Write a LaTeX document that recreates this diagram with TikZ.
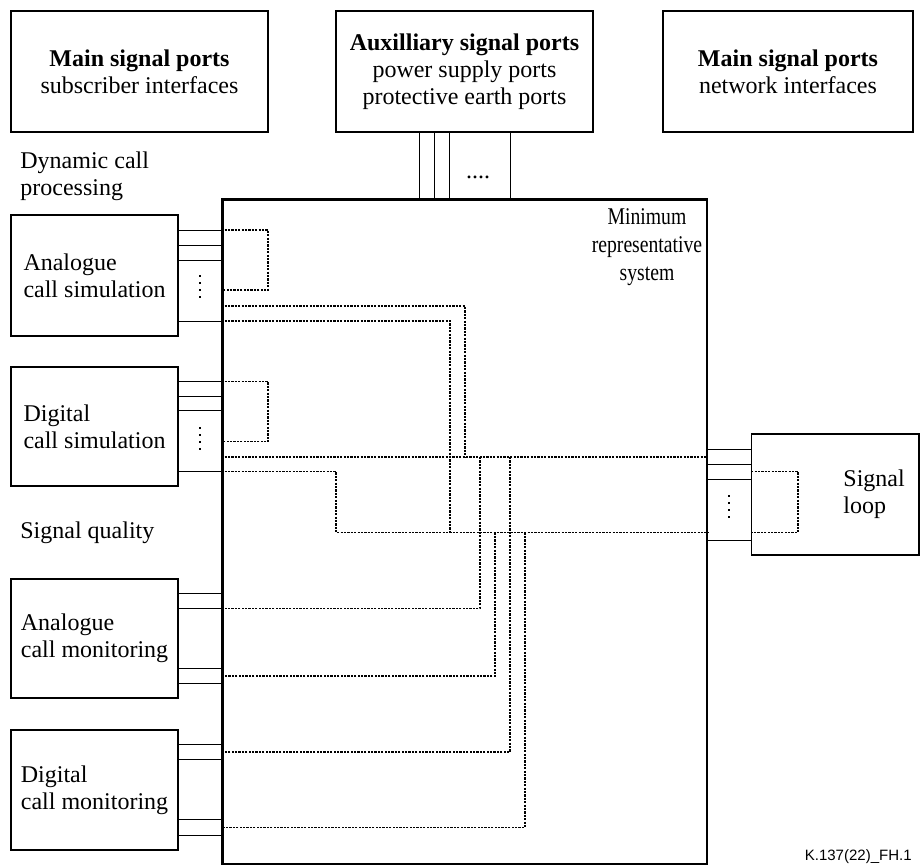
\documentclass[tikz,border=0pt]{standalone}
\usepackage{fontspec}
\setmainfont{Liberation Serif}
\newfontfamily\figsans{Liberation Sans}
\newfontfamily\narrowserif[FakeStretch=0.82]{Liberation Serif}
\tikzset{
  blk/.style={draw,line width=0.6pt,inner sep=0pt,align=left,font=\fontsize{12}{13.5}\selectfont},
  txt/.style={inner sep=0pt,align=left,font=\fontsize{12}{13.5}\selectfont},
  wire/.style={line width=0.5pt},
  link/.style={line width=0.55pt,dash pattern=on 1.1pt off 0.6pt},
  pdots/.style={line width=0.7pt,dash pattern=on 1pt off 2.5pt}
}
\begin{document}
\begin{tikzpicture}[x=0.5pt,y=-0.5pt]
\useasboundingbox (0,0) rectangle (921,867);
\node[blk,align=center,minimum width=128.5pt,minimum height=60.5pt] (subif) at (139.5,71.5) {\textbf{Main signal ports}\\subscriber interfaces};
\node[blk,align=center,minimum width=128.5pt,minimum height=60.5pt] (auxp) at (464.5,71.5) {\textbf{Auxilliary signal ports}\\power supply ports\\protective earth ports};
\node[blk,align=center,minimum width=125pt,minimum height=60.5pt] (netif) at (788,71.5) {\textbf{Main signal ports}\\network interfaces};
\node[blk,line width=1.4pt,minimum width=242.25pt,minimum height=332.25pt] (mrs) at (464.75,531.75) {};
\node[txt,align=center,font=\narrowserif\fontsize{12}{14}\selectfont] (mrstxt) at (647,247) {Minimum\\representative\\system};
\node[txt,anchor=west] (dyn) at (20,176) {Dynamic call\\processing};
\node[txt,anchor=west] (sq) at (20,533) {Signal quality};
\node[blk,minimum width=83.5pt,minimum height=60.5pt] (asim) at (94.5,275.5) {Analogue\\call simulation};
\node[blk,minimum width=83.5pt,minimum height=59.5pt] (dsim) at (94.5,426.5) {Digital\\call simulation};
\node[blk,minimum width=83.5pt,minimum height=59.5pt] (amon) at (94.5,638.5) {Analogue\\call monitoring};
\node[blk,minimum width=83.5pt,minimum height=60pt] (dmon) at (94.5,790) {Digital\\call monitoring};
\node[blk,minimum width=83.6pt,minimum height=60.5pt] (sloop) at (835.3,494.5) {};
\node[txt,anchor=west] (slooptxt) at (843,494.5) {Signal\\loop};
\node[anchor=east,inner sep=0pt,font=\figsans\fontsize{7.5}{9}\selectfont] (figid) at (912,857) {K.137(22)\_FH.1};

\draw[wire] (419.5,0 |- auxp.south) -- (419.5,0 |- mrs.north);
\draw[wire] (434.5,0 |- auxp.south) -- (434.5,0 |- mrs.north);
\draw[wire] (449.5,0 |- auxp.south) -- (449.5,0 |- mrs.north);
\draw[wire] (510.5,0 |- auxp.south) -- (510.5,0 |- mrs.north);
\node[txt] (auxdots) at (478,177) {....};

\draw[wire] (asim.east |- 0,230) -- (mrs.west |- 0,230);
\draw[wire] (asim.east |- 0,245.7) -- (mrs.west |- 0,245.7);
\draw[wire] (asim.east |- 0,260) -- (mrs.west |- 0,260);
\draw[wire] (asim.east |- 0,321) -- (mrs.west |- 0,321);
\draw[pdots] (200,275) -- (200,298);
\draw[link] (mrs.west |- 0,230) -| (268,290) -- (mrs.west |- 0,290);
\draw[link] (mrs.west |- 0,306) -| (465,457);
\draw[link] (mrs.west |- 0,321) -| (450,532.5);

\draw[wire] (dsim.east |- 0,381.7) -- (mrs.west |- 0,381.7);
\draw[wire] (dsim.east |- 0,396.7) -- (mrs.west |- 0,396.7);
\draw[wire] (dsim.east |- 0,410.7) -- (mrs.west |- 0,410.7);
\draw[wire] (dsim.east |- 0,471.7) -- (mrs.west |- 0,471.7);
\draw[pdots] (200,427) -- (200,450);
\draw[link] (mrs.west |- 0,381.7) -| (268,441.7) -- (mrs.west |- 0,441.7);
\draw[link] (mrs.west |- 0,457) -- (mrs.east |- 0,457);
\draw[link] (mrs.west |- 0,471.7) -| (336,532.5) -- (mrs.east |- 0,532.5);

\draw[wire] (mrs.east |- 0,449.3) -- (sloop.west |- 0,449.3);
\draw[wire] (mrs.east |- 0,464.3) -- (sloop.west |- 0,464.3);
\draw[wire] (mrs.east |- 0,479.3) -- (sloop.west |- 0,479.3);
\draw[wire] (mrs.east |- 0,540) -- (sloop.west |- 0,540);
\draw[pdots] (729,495) -- (729,518);
\draw[link] (sloop.west |- 0,471.7) -| (798,532.5) -- (sloop.west |- 0,532.5);

\draw[wire] (amon.east |- 0,593.3) -- (mrs.west |- 0,593.3);
\draw[wire] (amon.east |- 0,608.3) -- (mrs.west |- 0,608.3);
\draw[wire] (amon.east |- 0,668.3) -- (mrs.west |- 0,668.3);
\draw[wire] (amon.east |- 0,683.3) -- (mrs.west |- 0,683.3);
\draw[wire] (dmon.east |- 0,744) -- (mrs.west |- 0,744);
\draw[wire] (dmon.east |- 0,759.3) -- (mrs.west |- 0,759.3);
\draw[wire] (dmon.east |- 0,819.3) -- (mrs.west |- 0,819.3);
\draw[wire] (dmon.east |- 0,835) -- (mrs.west |- 0,835);

\draw[link] (480,457) |- (mrs.west |- 0,608.3);
\draw[link] (495,532.5) |- (mrs.west |- 0,676);
\draw[link] (510,457) |- (mrs.west |- 0,752);
\draw[link] (525,532.5) |- (mrs.west |- 0,827.3);
\end{tikzpicture}
\end{document}
